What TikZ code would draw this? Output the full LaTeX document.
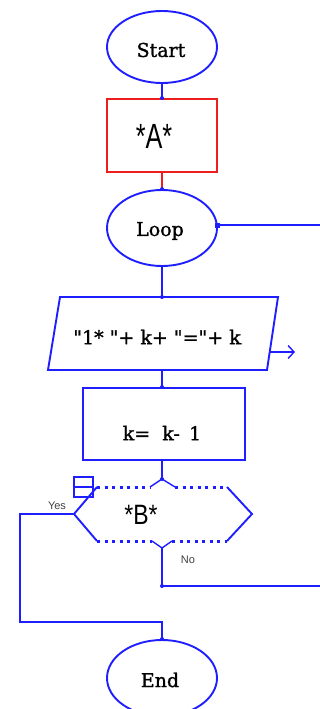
\documentclass[tikz,border=0pt]{standalone}
\usepackage{fontspec}
\setmainfont[FakeBold=1.4]{DejaVu Serif}
\newfontfamily\heavyserif[FakeBold=1.2]{DejaVu Serif}
\setsansfont{Liberation Sans}
\usetikzlibrary{arrows.meta,shapes.geometric}
\definecolor{fb}{RGB}{30,30,255}
\definecolor{fr}{RGB}{238,30,30}
\begin{document}
\begin{tikzpicture}[x=1pt,y=-1pt,line width=1.9pt,
  term/.style={ellipse,draw=fb,minimum width=110pt,inner sep=0pt},
  lbl/.style={inner sep=0pt,font=\heavyserif\fontsize{19}{19}\selectfont},
  sml/.style={inner sep=0pt,font=\sffamily\fontsize{11}{11}\selectfont,text=black!75},
  big/.style={inner sep=0pt,font=\sffamily\fontsize{35}{35}\selectfont},
  ln/.style={draw=fb},
  dt/.style={fill=fb,circle,inner sep=0pt,minimum size=4pt},
  dotline/.style={draw=fb,line width=3pt,dash pattern=on 3pt off 4.5pt}]
\useasboundingbox (0,0) rectangle (320,709);
% Start
\node[term,minimum height=72pt] (start) at (162,47) {};
\node[lbl] (tstart) at (161,50) {Start};
% A
\node[draw=fr,minimum width=110pt,minimum height=73pt,inner sep=0pt] (a) at (162,135.5) {};
\node[big] (ta) at (154,136) {\scalebox{0.72}[1]{*A*}};
% Loop
\node[term,minimum height=76pt] (loop) at (162,228) {};
\node[lbl] (tloop) at (160,231) {Loop};
% parallelogram
\coordinate (pTL) at (60,297);
\coordinate (pTR) at (278,297);
\coordinate (pBR) at (267,370);
\coordinate (pBL) at (48,370);
\coordinate (pT) at (162,297);
\coordinate (pB) at (162,370);
\coordinate (pR) at (269.5,352);
\coordinate (pOut) at (292,352);
\draw[ln] (pTL) -- (pTR) -- (pBR) -- (pBL) -- cycle;
\node[lbl] (tpar) at (158,337) {\textquotedbl1* \textquotedbl+ k+ \textquotedbl=\textquotedbl+ k{\fontsize{6}{6}\selectfont.}};
% k = k - 1
\node[draw=fb,minimum width=162pt,minimum height=72pt,inner sep=0pt] (kb) at (164,424) {};
\node[lbl] (tk) at (162,433) {k=\ \ k- \,1};
% hexagon
\coordinate (hTL) at (97,487);
\coordinate (hT1) at (150,487);
\coordinate (hT) at (162,479);
\coordinate (hT2) at (175,487);
\coordinate (hTR) at (227,487);
\coordinate (hR) at (252,514);
\coordinate (hBR) at (227,541);
\coordinate (hB2) at (172,541);
\coordinate (hB) at (162,548);
\coordinate (hB1) at (152,541);
\coordinate (hBL) at (97,541);
\coordinate (hL) at (74,514);
\draw[dotline] (hTL) -- (hT1);
\draw[dotline] (hT2) -- (hTR);
\draw[dotline] (hBL) -- (hB1);
\draw[dotline] (hB2) -- (hBR);
\draw[ln,line width=1.4pt] (hT1) -- (hT) -- (hT2);
\draw[ln,line width=1.4pt] (hB1) -- (hB) -- (hB2);
\draw[ln] (hTR) -- (hR) -- (hBR);
\draw[ln] (hBL) -- (hL) -- (hTL);
\node[big,font=\sffamily\fontsize{28}{28}\selectfont] (tb) at (141,515) {\scalebox{0.82}[1]{*B*}};
% small box
\node[draw=fb,minimum width=19pt,minimum height=20pt,inner sep=0pt,line width=1.7pt] (sb) at (83.5,487) {};
\draw[ln,line width=1.7pt] (sb.west) -- (sb.east);
% End
\node[term,minimum height=76pt] (end) at (162,678) {};
\node[lbl] (tend) at (160,680) {End};
% connectors
\draw[ln] (start.south) -- (a.north);
\draw[fr] (a.south) -- (loop.north);
\coordinate (rEdge1) at (320,225);
\draw[ln] (loop.east |- rEdge1) -- (rEdge1);
\draw[ln] (loop.south) -- (pT);
\draw[ln] (pB) -- (pB |- kb.north);
\draw[ln] (pR) -- (pOut);
\draw[draw=fb,line width=1.4pt,-{Straight Barb[length=6pt,width=13pt]}] (pOut) -- ++(3,0) coordinate (pOutTip);
\draw[ln] (hT |- kb.south) -- (hT);
\coordinate (yesC1) at (20,514);
\coordinate (yesC2) at (20,622);
\coordinate (yesC3) at (162,622);
\draw[ln] (hL) -- (yesC1) -- (yesC2) -- (yesC3) -- (end.north);
\coordinate (noC1) at (162,586);
\coordinate (rEdge2) at (320,586);
\draw[ln] (hB) -- (noC1) -- (rEdge2);
\node[sml] (tyes) at (57,506) {Yes};
\node[sml] (tno) at (188,560) {No};
% dots
\node[dt] (d1) at (a.north) {};
\node[dt] (d2) at (loop.north) {};
\node[dt,rectangle,minimum size=5pt] (d3) at (loop.east |- rEdge1) {};
\node[dt] (d4) at (pT) {};
\node[dt] (d5) at (pB |- kb.north) {};
\node[dt] (d6) at (end.north) {};
\node[dt] (d7) at (noC1) {};
\node[dt] (d8) at (hT) {};
\end{tikzpicture}
\end{document}
